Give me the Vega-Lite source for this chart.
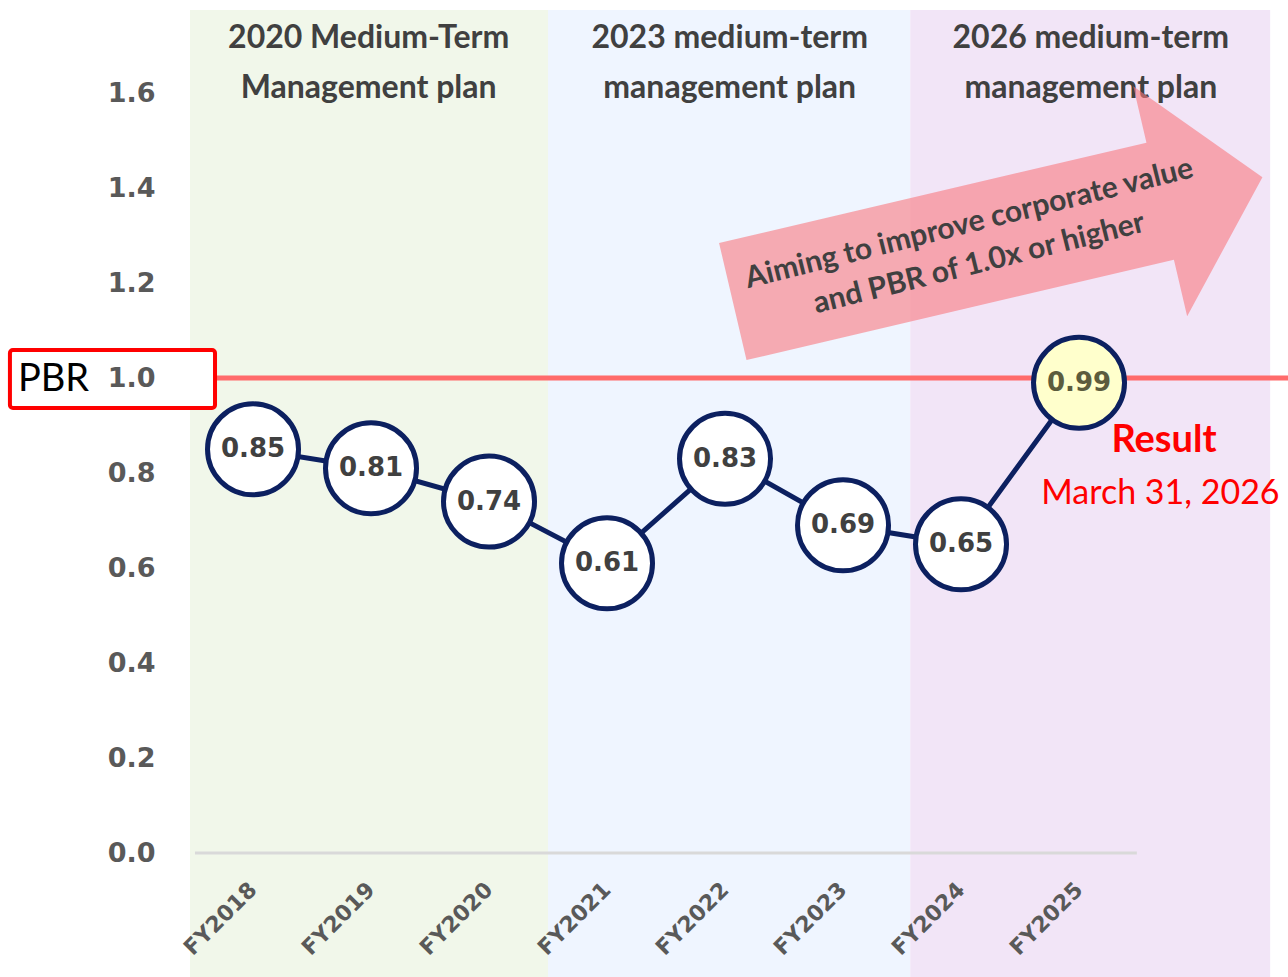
{
  "$schema": "https://vega.github.io/schema/vega-lite/v6.json",
  "width": 1098,
  "height": 977,
  "autosize": {"type": "none"},
  "padding": {"left": 190, "top": 0, "right": 0, "bottom": 0},
  "background": "white",
  "config": {"view": {"stroke": null}},
  "datasets": {
    "pbr": [
      {"fy": "FY2018", "year": 2018, "pbr": 0.85},
      {"fy": "FY2019", "year": 2019, "pbr": 0.81},
      {"fy": "FY2020", "year": 2020, "pbr": 0.74},
      {"fy": "FY2021", "year": 2021, "pbr": 0.61},
      {"fy": "FY2022", "year": 2022, "pbr": 0.83},
      {"fy": "FY2023", "year": 2023, "pbr": 0.69},
      {"fy": "FY2024", "year": 2024, "pbr": 0.65},
      {"fy": "FY2025", "year": 2025, "pbr": 0.99}
    ],
    "plans": [
      {"plan": "2020", "start": 2017.466, "end": 2020.5, "center": 2018.98, "title": "2020 Medium-Term\nManagement plan"},
      {"plan": "2023", "start": 2020.5, "end": 2023.57, "center": 2022.04, "title": "2023 medium-term\nmanagement plan"},
      {"plan": "2026", "start": 2023.57, "end": 2026.62, "center": 2025.1, "title": "2026 medium-term\nmanagement plan"}
    ]
  },
  "layer": [
    {
      "data": {"name": "plans"},
      "mark": {"type": "rect"},
      "encoding": {
        "x": {"field": "start", "type": "quantitative", "scale": {"domain": [2017.466, 2026.771], "nice": false, "zero": false}, "axis": null},
        "x2": {"field": "end"},
        "y": {
          "datum": 1.775, "type": "quantitative",
          "scale": {"domain": [-0.261, 1.796], "nice": false, "zero": false},
          "axis": {"values": [0, 0.2, 0.4, 0.6, 0.8, 1.0, 1.2, 1.4, 1.6], "format": ".1f", "domain": false, "ticks": false, "tickSize": 0, "grid": false, "labelPadding": 35, "labelFont": "DejaVu Sans", "labelFontWeight": "bold", "labelFontSize": 27, "labelColor": "#595959", "title": null, "zindex": 1}
        },
        "y2": {"datum": -0.261},
        "color": {"field": "plan", "type": "nominal", "scale": {"domain": ["2020", "2023", "2026"], "range": ["#f1f7ea", "#eff5ff", "#f2e5f7"]}, "legend": null}
      }
    },
    {
      "data": {"name": "plans"},
      "mark": {"type": "text", "lineBreak": "\n", "font": "Lato", "fontWeight": "bold", "fontSize": 32, "color": "#404040", "align": "center", "baseline": "middle", "lineHeight": 50},
      "encoding": {
        "x": {"field": "center", "type": "quantitative"},
        "y": {"datum": 1.716, "type": "quantitative"},
        "text": {"field": "title"}
      }
    },
    {
      "data": {"values": [{}]},
      "mark": {"type": "rule", "color": "#d9d9d9", "strokeWidth": 3},
      "encoding": {
        "x": {"datum": 2017.508, "type": "quantitative"},
        "x2": {"datum": 2025.49},
        "y": {"datum": 0, "type": "quantitative"}
      }
    },
    {
      "data": {"values": [{}]},
      "mark": {"type": "point", "shape": "M-1,-0.221L0.614,-0.221L0.614,-0.434L1,0L0.614,0.434L0.614,0.221L-1,0.221Z", "size": 295936, "angle": 346.8, "filled": true, "color": "#f8787f", "opacity": 0.6, "strokeWidth": 0},
      "encoding": {
        "x": {"datum": 2024.31, "type": "quantitative"},
        "y": {"datum": 1.292, "type": "quantitative"}
      }
    },
    {
      "data": {"values": [{}]},
      "mark": {"type": "text", "text": ["Aiming to improve corporate value", "and PBR of 1.0x or higher"], "font": "Lato", "fontWeight": "bold", "fontSize": 30, "color": "#404040", "align": "center", "baseline": "middle", "lineHeight": 41, "angle": 346},
      "encoding": {
        "x": {"datum": 2024.07, "type": "quantitative"},
        "y": {"datum": 1.325, "type": "quantitative"}
      }
    },
    {
      "data": {"values": [{}]},
      "mark": {"type": "rule", "color": "#ff6b6b", "strokeWidth": 5},
      "encoding": {
        "x": {"datum": 2017.678, "type": "quantitative"},
        "x2": {"datum": 2026.771},
        "y": {"datum": 1.0, "type": "quantitative"}
      }
    },
    {
      "data": {"values": [{}]},
      "mark": {"type": "rect", "fill": "white", "stroke": "#ff0000", "strokeWidth": 4, "cornerRadius": 3},
      "encoding": {
        "x": {"datum": 2015.94, "type": "quantitative"},
        "x2": {"datum": 2017.678},
        "y": {"datum": 1.059, "type": "quantitative"},
        "y2": {"datum": 0.937}
      }
    },
    {
      "data": {"values": [{}]},
      "mark": {"type": "text", "text": "PBR", "font": "Lato", "fontSize": 38, "color": "#000000", "align": "left", "baseline": "middle"},
      "encoding": {
        "x": {"datum": 2016.008, "type": "quantitative"},
        "y": {"datum": 0.996, "type": "quantitative"}
      }
    },
    {
      "data": {"name": "pbr"},
      "mark": {"type": "line", "color": "#0c2060", "strokeWidth": 5},
      "encoding": {
        "x": {"field": "year", "type": "quantitative"},
        "y": {"field": "pbr", "type": "quantitative"}
      }
    },
    {
      "data": {"name": "pbr"},
      "mark": {"type": "point", "shape": "circle", "size": 8281, "filled": true, "stroke": "#0c2060", "strokeWidth": 5, "opacity": 1},
      "encoding": {
        "x": {"field": "year", "type": "quantitative"},
        "y": {"field": "pbr", "type": "quantitative"},
        "fill": {"condition": {"test": "datum.year === 2025", "value": "#ffffcc"}, "value": "#ffffff"}
      }
    },
    {
      "data": {"name": "pbr"},
      "mark": {"type": "text", "font": "DejaVu Sans", "fontWeight": "bold", "fontSize": 26, "align": "center", "baseline": "middle"},
      "encoding": {
        "x": {"field": "year", "type": "quantitative"},
        "y": {"field": "pbr", "type": "quantitative"},
        "text": {"field": "pbr", "type": "quantitative", "format": ".2f"},
        "color": {"condition": {"test": "datum.year === 2025", "value": "#5c5c3d"}, "value": "#404040"}
      }
    },
    {
      "data": {"values": [{}]},
      "mark": {"type": "text", "text": "Result", "font": "Lato", "fontWeight": "bold", "fontSize": 38, "color": "#ff0000", "align": "center", "baseline": "middle"},
      "encoding": {
        "x": {"datum": 2025.72, "type": "quantitative"},
        "y": {"datum": 0.867, "type": "quantitative"}
      }
    },
    {
      "data": {"values": [{}]},
      "mark": {"type": "text", "text": "March 31, 2026", "font": "Lato", "fontSize": 34, "color": "#ff0000", "align": "center", "baseline": "middle"},
      "encoding": {
        "x": {"datum": 2025.69, "type": "quantitative"},
        "y": {"datum": 0.756, "type": "quantitative"}
      }
    },
    {
      "data": {"name": "pbr"},
      "mark": {"type": "text", "font": "DejaVu Sans", "fontWeight": "bold", "fontSize": 22, "color": "#595959", "align": "right", "baseline": "middle", "angle": 315},
      "encoding": {
        "x": {"field": "year", "type": "quantitative"},
        "y": {"datum": -0.07, "type": "quantitative"},
        "text": {"field": "fy"}
      }
    }
  ]
}
